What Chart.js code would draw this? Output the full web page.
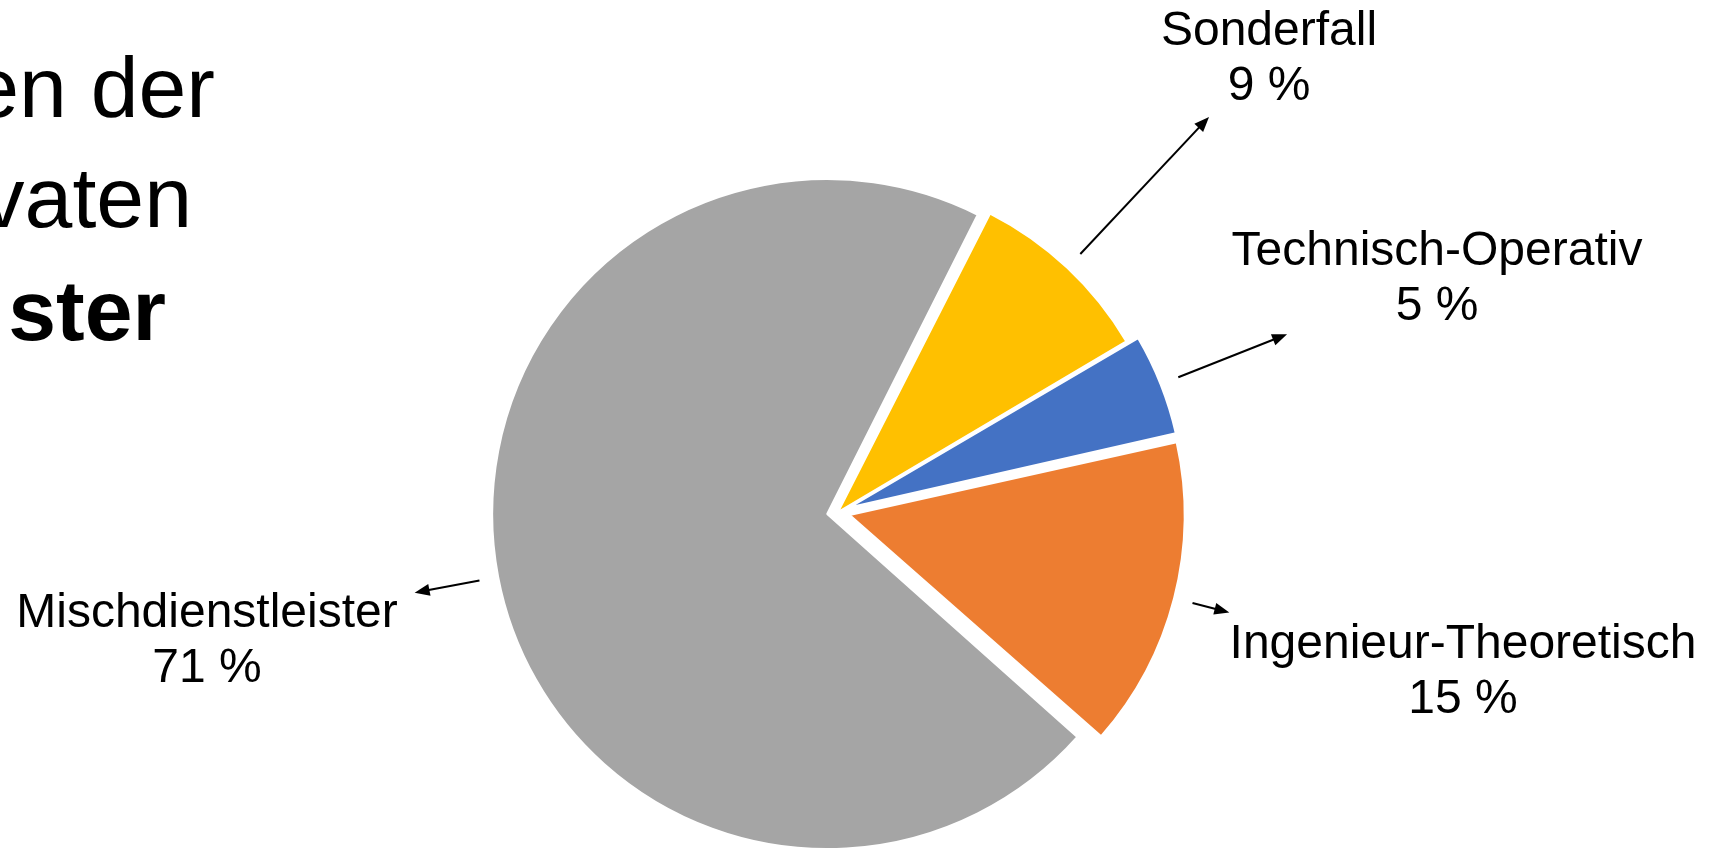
<!DOCTYPE html>
<html>
<head>
<meta charset="utf-8">
<script src="https://cdn.jsdelivr.net/npm/chart.js@4"></script>
<style>
    html, body { margin: 0; padding: 0; background: #fff; }
    #wrap { position: relative; width: 1716px; height: 850px; }
</style>
</head>
<body>
<div id="wrap"><canvas id="Chart"></canvas></div>
<script>
var labels = ['Sonderfall', 'Technisch-Operativ', 'Ingenieur-Theoretisch', 'Mischdienstleister'];
var shares = [9, 5, 15, 71];
var colors = ['#FFC000', '#4472C4', '#ED7D31', '#A5A5A5'];

// how far each slice is pulled out (px) and how long its arrow runs past the rim
var pull = [0, 12, 12, 11];
var leader = [188, 117, 38, 66];
// label block: centre x, baseline of the first line
var labelAt = [[1269, 45], [1437, 265], [1463, 658], [207, 627]];

// slide heading, cut by the left edge of the slide
var heading = [['en der', 215, 117, 'normal'], ['vaten', 192, 227, 'normal'], ['ster', 166, 340, 'bold']];

var FONT = '"Liberation Sans", Arial, sans-serif';

// chart.js moves an arc by offset/4 and also widens it by offset/4 * (1 - sin(circumference));
// take the widening back so all slices keep the same radius
var sameRadius = {
    id: 'sameRadius',
    afterDatasetUpdate: function(chart, args) {
        args.meta.data.forEach(function(arc, i) {
            var fix = 1 - Math.sin(Math.min(Math.PI, arc.circumference));
            arc.outerRadius -= pull[i] * fix;
        });
    }
};

var callouts = {
    id: 'callouts',
    afterDatasetsDraw: function(chart) {
        var ctx = chart.ctx;
        var meta = chart.getDatasetMeta(0);
        var R = meta.controller.outerRadius;
        ctx.save();
        ctx.strokeStyle = '#000';
        ctx.fillStyle = '#000';
        ctx.lineWidth = 2;
        meta.data.forEach(function(arc, i) {
            var mid = (arc.startAngle + arc.endAngle) / 2;
            var dx = Math.cos(mid), dy = Math.sin(mid);
            var cx = arc.x + dx * pull[i], cy = arc.y + dy * pull[i];
            var r0 = R + 19, r1 = r0 + leader[i];
            var tx = cx + dx * r1, ty = cy + dy * r1;
            var head = 15, half = 6;
            var bx = tx - dx * head, by = ty - dy * head;
            ctx.beginPath();
            ctx.moveTo(cx + dx * r0, cy + dy * r0);
            ctx.lineTo(bx + dx * 2, by + dy * 2);
            ctx.stroke();
            ctx.beginPath();
            ctx.moveTo(tx, ty);
            ctx.lineTo(bx - dy * half, by + dx * half);
            ctx.lineTo(bx + dy * half, by - dx * half);
            ctx.closePath();
            ctx.fill();

            ctx.font = '48px ' + FONT;
            ctx.textAlign = 'center';
            ctx.textBaseline = 'alphabetic';
            ctx.fillText(labels[i], labelAt[i][0], labelAt[i][1]);
            ctx.fillText(shares[i] + ' %', labelAt[i][0], labelAt[i][1] + 55);
        });

        ctx.textAlign = 'right';
        heading.forEach(function(h) {
            ctx.font = h[3] + ' 86px ' + FONT;
            ctx.fillText(h[0], h[1], h[2]);
        });
        ctx.restore();
    }
};

var ctx = document.getElementById('Chart').getContext('2d');
var myChart = new Chart(ctx, {
    type: 'pie',
    data: {
        labels: labels,
        datasets: [{
            data: shares,
            backgroundColor: colors,
            borderColor: '#ffffff',
            borderWidth: 2,
            offset: pull.map(function(p) { return p * 4; })
        }]
    },
    options: {
        responsive: true,
        maintainAspectRatio: false,
        animation: false,
        rotation: 27,
        radius: 335,
        layout: { padding: { left: 0, right: 40, top: 174, bottom: 0 } },
        plugins: {
            legend: { display: false },
            tooltip: { enabled: false }
        }
    },
    plugins: [sameRadius, callouts]
});
</script>
</body>
</html>
